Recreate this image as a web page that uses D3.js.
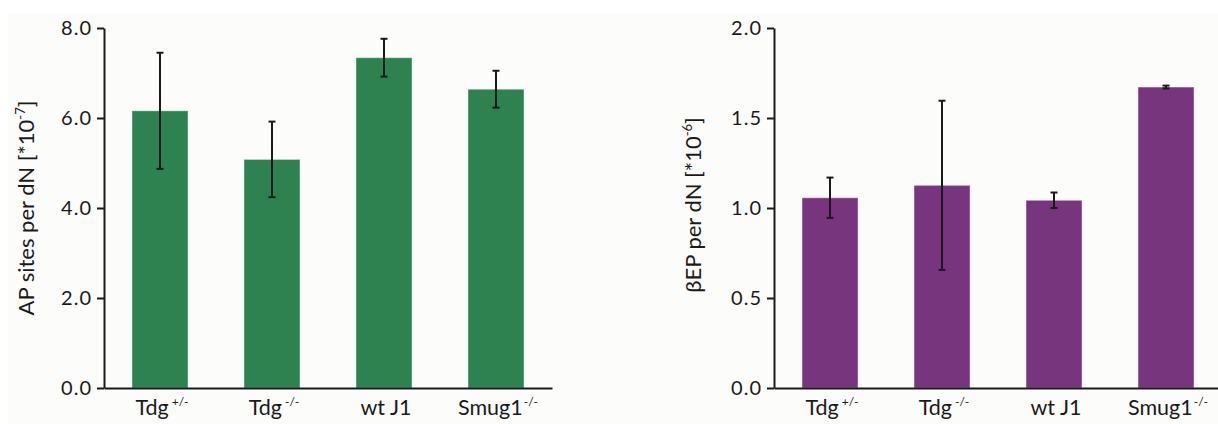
<!DOCTYPE html>
<html>
<head>
<meta charset="utf-8">
<script src="https://cdn.jsdelivr.net/npm/d3@7"></script>
<style>
  html, body { margin: 0; padding: 0; background: #ffffff; }
  svg { display: block; }
  text { font-family: Lato, "Open Sans", sans-serif; fill: #1a1a1a; }
</style>
</head>
<body>
<svg id="chart" width="1218" height="424"></svg>
<script>
// Genotypes on the x axis (base name + superscript genotype)
const genotypes = ["Tdg", "Tdg", "wt J1", "Smug1"];
const genotypeSup = ["+/-", "-/-", "", "-/-"];

// AP sites per dN (×10^-7): means and error half-widths
const apMean = [6.16, 5.08, 7.34, 6.64];
const apErr = [1.29, 0.84, 0.42, 0.41];
const apTicks = [0, 2, 4, 6, 8];

// βEP per dN (×10^-6): means and error half-widths
const bepMean = [1.057, 1.126, 1.043, 1.672];
const bepErr = [0.112, 0.47, 0.043, 0.008];
const bepTicks = [0, 0.5, 1.0, 1.5, 2.0];

const svg = d3.select("#chart");

// faint paper tone behind both panels
svg.append("rect").attr("x", 8).attr("y", 13).attr("width", 1210).attr("height", 411)
  .attr("fill", "#fcfcfa");

function panel(opts) {
  const g = svg.append("g");
  const x = d3.scaleBand()
    .domain(d3.range(genotypes.length))
    .range([opts.x0, opts.x0 + 448])
    .paddingInner(0.5)
    .paddingOuter(0.25);
  const y = d3.scaleLinear().domain([0, opts.max]).range([388, 28]);

  // bars
  g.selectAll("rect.bar").data(opts.mean).join("rect")
    .attr("class", "bar")
    .attr("x", (d, i) => x(i))
    .attr("width", x.bandwidth())
    .attr("y", d => y(d))
    .attr("height", d => y(0) - y(d))
    .attr("fill", opts.color)
    .attr("stroke", "rgba(255,255,255,0.45)")
    .attr("stroke-width", 1);

  // error bars
  const eb = g.selectAll("g.err").data(opts.mean).join("g").attr("class", "err");
  const cx = i => x(i) + x.bandwidth() / 2;
  const cap = 3.5;
  eb.append("line")
    .attr("x1", (d, i) => cx(i)).attr("x2", (d, i) => cx(i))
    .attr("y1", (d, i) => y(d + opts.err[i])).attr("y2", (d, i) => y(d - opts.err[i]));
  eb.append("line")
    .attr("x1", (d, i) => cx(i) - cap).attr("x2", (d, i) => cx(i) + cap)
    .attr("y1", (d, i) => y(d + opts.err[i])).attr("y2", (d, i) => y(d + opts.err[i]));
  eb.append("line")
    .attr("x1", (d, i) => cx(i) - cap).attr("x2", (d, i) => cx(i) + cap)
    .attr("y1", (d, i) => y(d - opts.err[i])).attr("y2", (d, i) => y(d - opts.err[i]));
  eb.selectAll("line").attr("stroke", "#1a1a1a").attr("stroke-width", 2);

  // y axis
  const ya = g.append("g")
    .attr("transform", `translate(${opts.x0},0)`)
    .call(d3.axisLeft(y).tickValues(opts.ticks).tickFormat(d3.format(".1f"))
      .tickSize(7).tickSizeOuter(0).tickPadding(5));
  ya.select(".domain").attr("stroke", "#1a1a1a").attr("stroke-width", 2);
  ya.selectAll(".tick line").attr("stroke", "#1a1a1a").attr("stroke-width", 2);
  ya.selectAll(".tick text")
    .style("font-size", "20px").attr("fill", "#1a1a1a").style("letter-spacing", "1px");

  // x axis
  const xa = g.append("g")
    .attr("transform", "translate(0,388)")
    .call(d3.axisBottom(x).tickSize(0).tickSizeOuter(0).tickFormat(""));
  xa.select(".domain").attr("stroke", "#1a1a1a").attr("stroke-width", 2);
  xa.selectAll(".tick text").remove();

  // category labels with superscripts
  const lab = g.selectAll("text.cat").data(genotypes).join("text")
    .attr("class", "cat")
    .attr("x", (d, i) => cx(i) + 2)
    .attr("y", 415)
    .attr("text-anchor", "middle")
    .style("font-size", "21.5px");
  lab.append("tspan").text(d => d);
  lab.append("tspan")
    .attr("dx", (d, i) => genotypes[i] === "Tdg" ? 3 : 1)
    .attr("dy", -9)
    .style("font-size", "12px")
    .text((d, i) => genotypeSup[i]);

  // y axis title
  const t = g.append("text")
    .attr("transform", `translate(${opts.titleX},${opts.titleY}) rotate(-90)`)
    .attr("text-anchor", "middle")
    .style("font-size", "22px");
  t.append("tspan").text(opts.title);
  t.append("tspan").attr("dy", -9).style("font-size", "13px").text(opts.titleSup);
  t.append("tspan").attr("dy", 9).text("]");
}

panel({
  x0: 104, max: 8, ticks: apTicks, mean: apMean, err: apErr,
  color: "#2d8250",
  title: "AP sites per dN [*10", titleSup: "-7",
  titleX: 34, titleY: 208
});

panel({
  x0: 774, max: 2, ticks: bepTicks, mean: bepMean, err: bepErr,
  color: "#77357e",
  title: "\u03B2EP per dN [*10", titleSup: "-6",
  titleX: 701, titleY: 205
});
</script>
</body>
</html>
